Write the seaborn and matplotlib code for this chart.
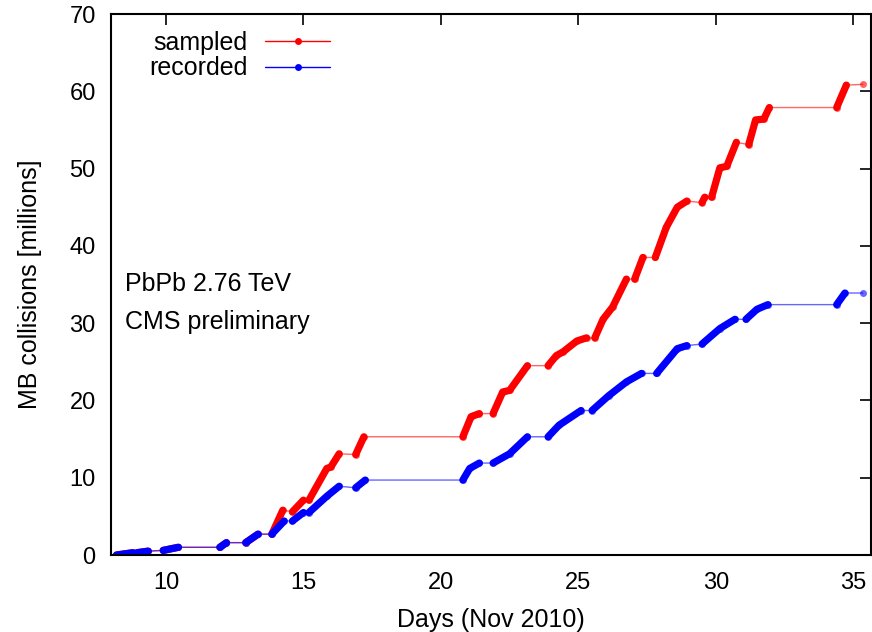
import pandas as pd
import matplotlib
matplotlib.use("Agg")
import matplotlib.pyplot as plt
from matplotlib.lines import Line2D
import seaborn as sns

# Data (day of Nov 2010, millions of collisions)
# each run is a burst of data taking; flat lines join the runs
sampled_day = [8.2, 8.8, 8.95, 9.35, 9.9, 10.45, 11.96, 12.2, 12.9, 13.35,
               13.85, 14.25, 14.6, 15.0, 15.2, 15.85, 16.0, 16.3, 16.9, 17.2,
               20.8, 21.1, 21.4, 21.9, 22.25, 22.5, 23.15, 23.9, 24.2, 24.45,
               24.95, 25.3, 25.6, 25.9, 26.25, 26.75, 27.05, 27.35, 27.8, 28.2,
               28.6, 28.95, 29.5, 29.6, 29.85, 30.15, 30.4, 30.75, 31.2, 31.45,
               31.75, 31.95, 34.4, 34.75, 35.35]
sampled_val = [0.0, 0.3, 0.3, 0.5, 0.6, 1.0, 1.0, 1.6, 1.6, 2.7,
               2.7, 5.8, 5.6, 7.1, 7.1, 11.2, 11.4, 13.1, 13.0, 15.3,
               15.3, 17.9, 18.3, 18.3, 21.1, 21.3, 24.5, 24.5, 25.8, 26.3,
               27.7, 28.1, 28.1, 30.5, 32.1, 35.7, 35.7, 38.5, 38.5, 42.4,
               45.0, 45.8, 45.6, 46.3, 46.3, 50.1, 50.3, 53.4, 53.1, 56.3,
               56.4, 57.9, 57.9, 60.8, 60.9]
sampled_run = [0, 0, 1, 1, 2, 2, 3, 3, 4, 4,
               5, 5, 6, 6, 7, 7, 7, 7, 8, 8,
               9, 9, 9, 10, 10, 10, 10, 11, 11, 11,
               11, 11, 12, 12, 12, 12, 13, 13, 14, 14,
               14, 14, 15, 15, 16, 16, 16, 16, 17, 17,
               17, 17, 18, 18, 19]

recorded_day = [8.2, 8.8, 8.95, 9.35, 9.9, 10.45, 11.96, 12.2, 12.9, 13.35,
                13.85, 14.3, 14.6, 15.0, 15.2, 15.85, 16.3, 16.9, 17.25,
                20.8, 21.05, 21.4, 21.9, 22.5, 23.15, 23.9, 24.3, 25.1,
                25.5, 26.1, 26.75, 27.3, 27.85, 28.6, 28.95, 29.5, 30.15, 30.7,
                31.1, 31.5, 31.9, 34.4, 34.7, 35.35]
recorded_val = [0.0, 0.3, 0.3, 0.5, 0.6, 1.0, 1.0, 1.6, 1.6, 2.7,
                2.7, 4.4, 4.4, 5.5, 5.5, 7.6, 8.9, 8.7, 9.7,
                9.7, 11.2, 11.9, 11.9, 13.1, 15.3, 15.3, 16.8, 18.7,
                18.7, 20.6, 22.4, 23.5, 23.5, 26.7, 27.1, 27.3, 29.3, 30.5,
                30.5, 31.8, 32.4, 32.4, 33.9, 33.9]
recorded_run = [0, 0, 1, 1, 2, 2, 3, 3, 4, 4,
                5, 5, 6, 6, 7, 7, 7, 8, 8,
                9, 9, 9, 10, 10, 10, 11, 11, 11,
                12, 12, 12, 12, 13, 13, 13, 14, 14, 14,
                15, 15, 15, 16, 16, 17]

sampled = pd.DataFrame({"day": sampled_day, "val": sampled_val, "run": sampled_run})
recorded = pd.DataFrame({"day": recorded_day, "val": recorded_val, "run": recorded_run})

sns.set_theme(style="white")
plt.rcParams["font.family"] = ["Liberation Sans", "DejaVu Sans"]

fig = plt.figure(figsize=(8.72, 6.32), dpi=100)
ax = fig.add_axes([0.1273, 0.1218, 0.8716, 0.856])

for df, col in [(sampled, "#ff0000"), (recorded, "#0000ff")]:
    # thin line through all points
    sns.lineplot(data=df, x="day", y="val", sort=False, estimator=None,
                 color=col, lw=1.0, alpha=0.6, marker="o", markersize=5,
                 markeredgewidth=0, ax=ax)
    # dense bursts of points during data taking
    sns.lineplot(data=df, x="day", y="val", units="run", estimator=None,
                 sort=False, color=col, lw=5.2, solid_capstyle="round", ax=ax)

ax.set_xlim(8.0, 35.65)
ax.set_ylim(0, 70)
ax.set_xticks([10, 15, 20, 25, 30, 35])
ax.set_yticks(range(0, 71, 10))
ax.tick_params(direction="in", length=8, width=1.2, top=True, right=True,
               labelsize=17, colors="black")
ax.tick_params(axis="x", pad=12)
ax.tick_params(axis="y", pad=11)
for s in ax.spines.values():
    s.set_color("black")
    s.set_linewidth(1.5)

ax.set_xlabel("Days (Nov 2010)", fontsize=18, labelpad=10, color="black")
ax.set_ylabel("MB collisions [millions]", fontsize=18, labelpad=20, color="black")

ax.text(8.5, 35.1, "PbPb 2.76 TeV", fontsize=18, va="center", color="black")
ax.text(8.5, 30.2, "CMS preliminary", fontsize=18, va="center", color="black")

handles = [Line2D([], [], color="#ff0000", lw=1, marker="o", ms=5, mew=0),
           Line2D([], [], color="#0000ff", lw=1, marker="o", ms=5, mew=0)]
ax.legend(handles, ["sampled", "recorded"], loc="upper left",
          bbox_to_anchor=(0.021, 1.01), frameon=False, markerfirst=False,
          fontsize=18, handlelength=2.6, handletextpad=0.7, labelspacing=0.05,
          labelcolor="black")

fig.savefig("out.png", dpi=100)
